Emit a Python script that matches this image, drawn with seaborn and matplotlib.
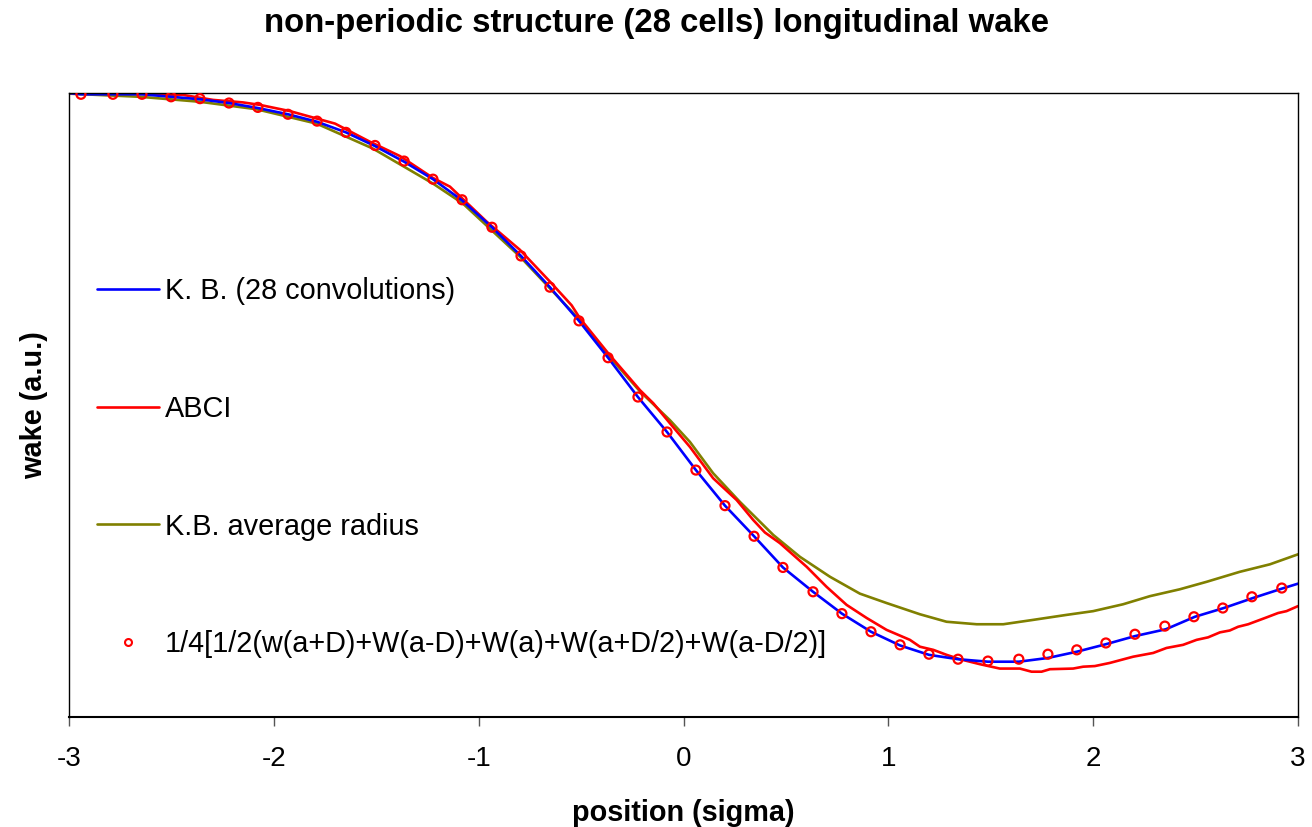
import numpy as np
import pandas as pd
import matplotlib
matplotlib.use("Agg")
import matplotlib.pyplot as plt
import seaborn as sns
from matplotlib.lines import Line2D

# ---------------- data ----------------
kb_x = [-3.000, -2.943, -2.787, -2.645, -2.503, -2.362, -2.220, -2.079, -1.932, -1.790,
        -1.649, -1.507, -1.365, -1.224, -1.082, -0.936, -0.794, -0.653, -0.511, -0.369,
        -0.223, -0.081, 0.060, 0.202, 0.344, 0.485, 0.632, 0.773, 0.915, 1.057,
        1.198, 1.340, 1.486, 1.637, 1.779, 1.920, 2.062, 2.204, 2.355, 2.497,
        2.638, 2.780, 2.921, 3.000]
kb_y = [0.000, -0.002, -0.002, -0.002, -0.006, -0.010, -0.016, -0.024, -0.034, -0.046,
        -0.063, -0.085, -0.110, -0.138, -0.172, -0.215, -0.261, -0.311, -0.365, -0.424,
        -0.487, -0.543, -0.604, -0.661, -0.710, -0.760, -0.799, -0.834, -0.863, -0.885,
        -0.900, -0.907, -0.911, -0.911, -0.905, -0.895, -0.883, -0.870, -0.859, -0.839,
        -0.825, -0.809, -0.794, -0.786]

abci_x = [-3.000, -2.704, -2.445, -2.298, -2.152, -2.069, -1.922, -1.790, -1.702, -1.532,
          -1.385, -1.224, -1.141, -0.962, -0.897, -0.800, -0.653, -0.547, -0.506, -0.368,
          -0.213, -0.148, -0.067, 0.031, 0.144, 0.259, 0.340, 0.397, 0.470, 0.601,
          0.698, 0.796, 0.894, 0.991, 1.105, 1.154, 1.219, 1.284, 1.349, 1.447,
          1.544, 1.642, 1.699, 1.748, 1.789, 1.902, 1.951, 2.008, 2.081, 2.195,
          2.293, 2.358, 2.439, 2.505, 2.561, 2.619, 2.667, 2.708, 2.757, 2.847,
          2.903, 2.944, 3.000]
abci_y = [0.000, -0.001, -0.003, -0.011, -0.015, -0.019, -0.029, -0.041, -0.049, -0.078,
          -0.101, -0.136, -0.150, -0.206, -0.224, -0.251, -0.302, -0.340, -0.361, -0.417,
          -0.476, -0.497, -0.529, -0.567, -0.617, -0.652, -0.684, -0.704, -0.721, -0.759,
          -0.791, -0.820, -0.841, -0.860, -0.876, -0.887, -0.892, -0.900, -0.907, -0.915,
          -0.922, -0.922, -0.927, -0.927, -0.923, -0.922, -0.919, -0.918, -0.913, -0.903,
          -0.897, -0.889, -0.884, -0.876, -0.872, -0.864, -0.861, -0.855, -0.851, -0.840,
          -0.833, -0.830, -0.822]

avg_x = [-3.000, -2.655, -2.362, -2.085, -1.792, -1.517, -1.224, -1.078, -0.799, -0.506,
         -0.376, -0.213, -0.067, 0.031, 0.144, 0.275, 0.438, 0.568, 0.715, 0.861,
         0.991, 1.154, 1.284, 1.431, 1.561, 1.707, 1.870, 2.000, 2.146, 2.277,
         2.423, 2.554, 2.716, 2.863, 3.000]
avg_y = [-0.001, -0.006, -0.014, -0.026, -0.049, -0.089, -0.145, -0.177, -0.262, -0.364,
         -0.417, -0.478, -0.524, -0.559, -0.609, -0.655, -0.708, -0.743, -0.775, -0.802,
         -0.817, -0.835, -0.847, -0.851, -0.851, -0.844, -0.836, -0.830, -0.819, -0.806,
         -0.795, -0.783, -0.767, -0.755, -0.739]

approx_x = [-2.943, -2.787, -2.645, -2.503, -2.362, -2.220, -2.079, -1.932, -1.790, -1.649,
            -1.507, -1.365, -1.224, -1.082, -0.936, -0.794, -0.653, -0.511, -0.369, -0.223,
            -0.081, 0.060, 0.202, 0.344, 0.485, 0.632, 0.773, 0.915, 1.057, 1.198,
            1.340, 1.486, 1.637, 1.779, 1.920, 2.062, 2.204, 2.350, 2.492, 2.633,
            2.775, 2.921]
approx_y = [-0.002, -0.002, -0.002, -0.006, -0.009, -0.016, -0.023, -0.034, -0.045, -0.063,
            -0.084, -0.109, -0.138, -0.171, -0.215, -0.261, -0.311, -0.365, -0.424, -0.487,
            -0.543, -0.604, -0.661, -0.710, -0.760, -0.799, -0.834, -0.863, -0.884, -0.899,
            -0.907, -0.910, -0.907, -0.899, -0.892, -0.881, -0.867, -0.854, -0.839, -0.825,
            -0.807, -0.793]

labels = ["K. B. (28 convolutions)", "ABCI", "K.B. average radius",
          "1/4[1/2(w(a+D)+W(a-D)+W(a)+W(a+D/2)+W(a-D/2)]"]
x_ticks = [-3, -2, -1, 0, 1, 2, 3]
title = "non-periodic structure (28 cells) longitudinal wake"
xlabel = "position (sigma)"
ylabel = "wake (a.u.)"

# ---------------- style ----------------
sns.set_theme(style="white")
plt.rcParams["font.family"] = ["Liberation Sans", "DejaVu Sans"]
plt.rcParams["axes.unicode_minus"] = False
plt.rcParams["text.color"] = "black"
plt.rcParams["axes.labelcolor"] = "black"

BLUE, RED, OLIVE = "#0000FF", "#FF0000", "#808000"

fig = plt.figure(figsize=(13.12, 8.27), dpi=100)
ax = fig.add_axes([0.0528, 0.1327, 0.9365, 0.7548])

sns.lineplot(x=avg_x, y=avg_y, ax=ax, color=OLIVE, lw=1.9, sort=False, estimator=None)
sns.lineplot(x=abci_x, y=abci_y, ax=ax, color=RED, lw=1.9, sort=False, estimator=None)
sns.lineplot(x=kb_x, y=kb_y, ax=ax, color=BLUE, lw=1.9, sort=False, estimator=None)
sns.scatterplot(x=approx_x, y=approx_y, ax=ax, marker="o", s=42,
                facecolor="none", edgecolor=RED, linewidth=1.6, zorder=5)

ax.set_xlim(-3, 3)
ax.set_ylim(-1.0, 0.0)
ax.set_xticks(x_ticks)
ax.set_xticklabels([str(t) for t in x_ticks])
ax.set_yticks([])
ax.tick_params(axis="x", bottom=True, direction="out", length=6.5, width=1.0,
               color="#555555", labelcolor="black", labelsize=20, pad=14.5)
for s in ax.spines.values():
    s.set_color("black")
    s.set_linewidth(1.0)
ax.spines["bottom"].set_linewidth(1.5)

ax.set_xlabel(xlabel, fontsize=20.8, fontweight="bold", labelpad=19)
ax.set_ylabel(ylabel, fontsize=20.8, fontweight="bold", labelpad=15.5)
fig.suptitle(title, fontsize=23.7, fontweight="bold", x=0.5, y=0.99, va="top")

handles = [Line2D([], [], color=BLUE, lw=1.9),
           Line2D([], [], color=RED, lw=1.9),
           Line2D([], [], color=OLIVE, lw=1.9),
           Line2D([], [], color=RED, lw=0, marker="o", markersize=5,
                  markerfacecolor="none", markeredgewidth=1.5)]
leg = ax.legend(handles, labels, loc="upper left", bbox_to_anchor=(0.0225, 0.7046),
                frameon=False, fontsize=20.8, labelspacing=3.1, handlelength=2.15,
                handletextpad=0.2, borderpad=0, borderaxespad=0)

fig.savefig("out.png", dpi=100)
